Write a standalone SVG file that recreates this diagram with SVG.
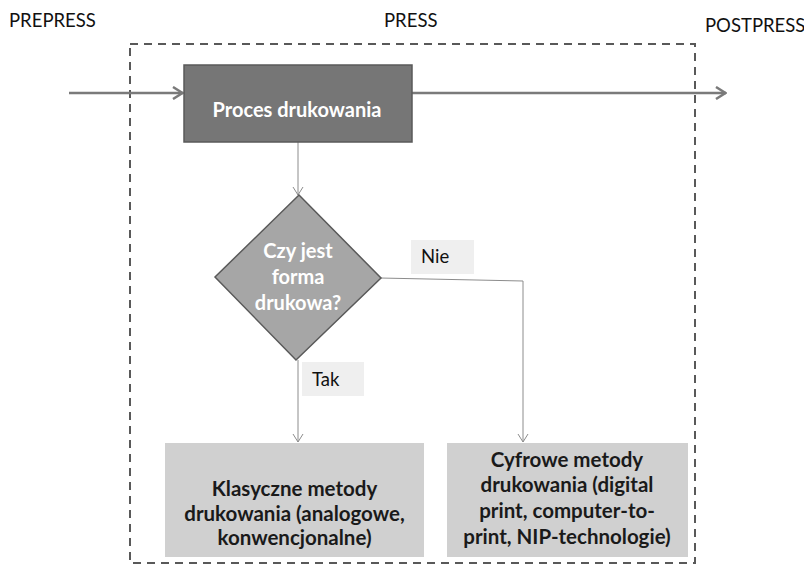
<svg xmlns="http://www.w3.org/2000/svg" width="804" height="566" viewBox="0 0 804 566">
  <style>
    .lbl { font-family: Lato, "Open Sans", sans-serif; font-size: 18.5px; fill: #111; }
    .wt { font-family: Lato, "Open Sans", sans-serif; font-size: 20px; font-weight: bold; fill: #fff; text-anchor: middle; }
    .dk { font-family: Lato, "Open Sans", sans-serif; font-size: 20.5px; font-weight: bold; fill: #1a1a1a; text-anchor: middle; }
    .thick { stroke: #7a7a7a; stroke-width: 2.5; fill: none; }
    .thin { stroke: #8c8c8c; stroke-width: 1; fill: none; }
  </style>
  <defs>
    <marker id="bigArrow" viewBox="0 0 12 14" refX="11" refY="7" markerWidth="12" markerHeight="14" markerUnits="userSpaceOnUse" orient="auto">
      <path d="M1,1 L10.5,7 L1,13" fill="none" stroke="#7a7a7a" stroke-width="2.5"/>
    </marker>
    <marker id="smallArrow" viewBox="0 0 12 12" refX="11" refY="6" markerWidth="12" markerHeight="12" markerUnits="userSpaceOnUse" orient="auto">
      <path d="M3,1 L11,6 L3,11" fill="none" stroke="#8c8c8c" stroke-width="1"/>
    </marker>
  </defs>

  <rect width="804" height="566" fill="#fff"/>

  <!-- stage headings -->
  <text class="lbl" x="9" y="27">PREPRESS</text>
  <text class="lbl" x="384" y="27">PRESS</text>
  <text class="lbl" x="705" y="32">POSTPRESS</text>

  <!-- press stage boundary -->
  <rect id="press-frame" x="130" y="44" width="565" height="519" fill="none" stroke="#595959" stroke-width="2" stroke-dasharray="8,6"/>

  <g id="connectors">
    <line class="thick" x1="69" y1="93" x2="183" y2="93" marker-end="url(#bigArrow)"/>
    <line class="thick" x1="412" y1="93" x2="726" y2="93" marker-end="url(#bigArrow)"/>
    <line class="thin" x1="298" y1="142" x2="298" y2="195" marker-end="url(#smallArrow)"/>
    <polyline class="thin" points="298,360 298,442" marker-end="url(#smallArrow)"/>
    <polyline class="thin" points="380,278 523,281 523,442" marker-end="url(#smallArrow)"/>
  </g>

  <g id="node-process">
    <rect x="184" y="65" width="228" height="77" fill="#767676" stroke="#5a5a5a" stroke-width="1.5"/>
    <text class="wt" x="297" y="117" font-size="20.5">Proces drukowania</text>
  </g>

  <g id="node-decision">
    <polygon points="299,195 381,278 296,360 215,277" fill="#a6a6a6" stroke="#595959" stroke-width="1.5"/>
    <text class="wt" x="298" y="258">Czy jest</text>
    <text class="wt" x="298" y="284">forma</text>
    <text class="wt" x="298" y="310">drukowa?</text>
  </g>

  <g id="label-nie">
    <rect x="411" y="240" width="63" height="34" fill="#efefef"/>
    <text class="lbl" x="421" y="263">Nie</text>
  </g>

  <g id="label-tak">
    <rect x="302" y="362" width="62" height="34" fill="#efefef"/>
    <text class="lbl" x="312" y="386">Tak</text>
  </g>

  <g id="node-classic">
    <rect x="165" y="443" width="259" height="114" fill="#d0d0d0"/>
    <text class="dk" x="294.5" y="496">Klasyczne metody</text>
    <text class="dk" x="294.5" y="521">drukowania (analogowe,</text>
    <text class="dk" x="294.5" y="545">konwencjonalne)</text>
  </g>

  <g id="node-digital">
    <rect x="447" y="443" width="241" height="114" fill="#d0d0d0"/>
    <text class="dk" x="567" y="467">Cyfrowe metody</text>
    <text class="dk" x="567" y="492">drukowania (digital</text>
    <text class="dk" x="567" y="518">print, computer-to-</text>
    <text class="dk" x="567" y="544">print, NIP-technologie)</text>
  </g>
</svg>
